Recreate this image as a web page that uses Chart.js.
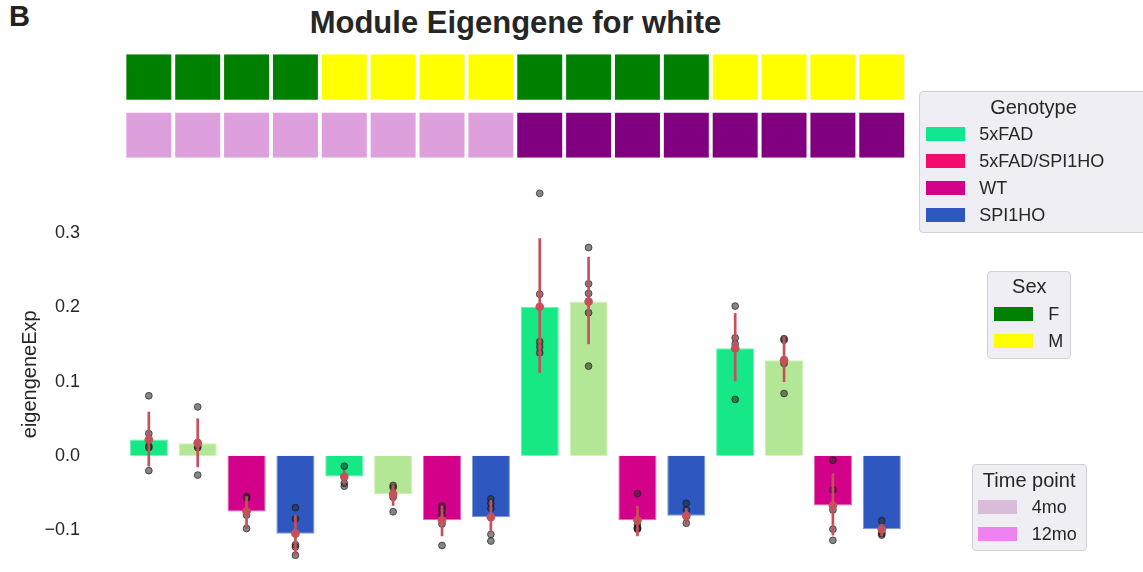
<!DOCTYPE html>
<html>
<head>
<meta charset="utf-8">
<script src="https://cdn.jsdelivr.net/npm/chart.js@4.4.0/dist/chart.umd.min.js"></script>
<style>
html,body{margin:0;padding:0;background:#fff;overflow:hidden;width:1143px;height:572px;
  font-family:"Liberation Sans",Arial,Helvetica,sans-serif;color:#262626}
canvas{position:absolute;left:0;top:0}
.abs{position:absolute;white-space:nowrap}
.lg{position:absolute;background:#EEEEF4;border:1px solid #D2D2D6;border-radius:4px;box-sizing:border-box}
.lgt{position:absolute;left:0;right:0;text-align:center;font-size:20px;line-height:24px}
.sw{position:absolute;width:39px;height:14px}
.lt{position:absolute;font-size:18px;line-height:20px}
</style>
</head>
<body>
<div class="abs" style="left:9px;top:2px;font-size:29px;line-height:29px;font-weight:bold;color:#222">B</div>
<div class="abs" style="left:0;width:1031px;top:7px;text-align:center;font-size:31px;line-height:31px;font-weight:bold;color:#262626">Module Eigengene for white</div>
<canvas id="strip" width="1143" height="572"></canvas>
<canvas id="main" width="1143" height="572"></canvas>
<div id="legends"></div>
<script>
// ---------- data ----------
const categories = ["5xFAD F 4mo","5xFAD/SPI1HO F 4mo","WT F 4mo","SPI1HO F 4mo",
                    "5xFAD M 4mo","5xFAD/SPI1HO M 4mo","WT M 4mo","SPI1HO M 4mo",
                    "5xFAD F 12mo","5xFAD/SPI1HO F 12mo","WT F 12mo","SPI1HO F 12mo",
                    "5xFAD M 12mo","5xFAD/SPI1HO M 12mo","WT M 12mo","SPI1HO M 12mo"];
const genotype = ["5xFAD","5xFAD/SPI1HO","WT","SPI1HO","5xFAD","5xFAD/SPI1HO","WT","SPI1HO",
                  "5xFAD","5xFAD/SPI1HO","WT","SPI1HO","5xFAD","5xFAD/SPI1HO","WT","SPI1HO"];
const sex = ["F","F","F","F","M","M","M","M","F","F","F","F","M","M","M","M"];
const timepoint = ["4mo","4mo","4mo","4mo","4mo","4mo","4mo","4mo",
                   "12mo","12mo","12mo","12mo","12mo","12mo","12mo","12mo"];
const barValues = [0.022, 0.017, -0.075, -0.105, -0.028, -0.052, -0.087, -0.083,
                   0.201, 0.208, -0.087, -0.081, 0.145, 0.129, -0.067, -0.099];
const errLow  = [-0.014, -0.015, -0.098, -0.134, -0.038, -0.067, -0.108, -0.102,
                  0.112, 0.151, -0.108, -0.093, 0.101, 0.100, -0.107, -0.108];
const errHigh = [0.059, 0.050, -0.055, -0.080, -0.020, -0.039, -0.068, -0.060,
                 0.293, 0.268, -0.068, -0.071, 0.192, 0.160, -0.024, -0.092];
const samples = [
  [0.081, 0.030, 0.013, 0.011, -0.020],
  [0.066, 0.018, 0.013, 0.011, -0.026],
  [-0.055, -0.057, -0.075, -0.080, -0.098],
  [-0.070, -0.085, -0.120, -0.123, -0.134],
  [-0.014, -0.029, -0.037, -0.041],
  [-0.040, -0.043, -0.052, -0.056, -0.0755],
  [-0.068, -0.073, -0.080, -0.092, -0.121],
  [-0.058, -0.064, -0.071, -0.106, -0.115],
  [0.354, 0.218, 0.154, 0.147, 0.139],
  [0.281, 0.232, 0.219, 0.193, 0.121],
  [-0.051, -0.093, -0.097, -0.098, -0.099],
  [-0.064, -0.073, -0.082, -0.091],
  [0.202, 0.159, 0.151, 0.1445, 0.076],
  [0.158, 0.156, 0.1245, 0.084],
  [-0.006, -0.046, -0.073, -0.099, -0.114],
  [-0.0875, -0.103, -0.105, -0.107]
];
const yTicks = [-0.1, 0.0, 0.1, 0.2, 0.3];
const yTickLabels = ["\u22120.1", "0.0", "0.1", "0.2", "0.3"];
const genotypeLegend = ["5xFAD", "5xFAD/SPI1HO", "WT", "SPI1HO"];
const sexLegend = ["F", "M"];
const timeLegend = ["4mo", "12mo"];

// ---------- styles ----------
const FONT = '"Liberation Sans", Arial, Helvetica, sans-serif';
const TEXT = '#262626';
const barColors = {"5xFAD":"#15E885","5xFAD/SPI1HO":"#B4E795","WT":"#D3008A","SPI1HO":"#2E58C0"};
const barEdge = {"5xFAD":"#6CEFB0","5xFAD/SPI1HO":"#CDEFB8","WT":"#E468B4","SPI1HO":"#7D96D8"};
const genotypeLegendColors = {"5xFAD":"#12E691","5xFAD/SPI1HO":"#F50A6E","WT":"#D3008A","SPI1HO":"#2E58C0"};
const sexColors = {"F":"#008000","M":"#FFFF00"};
const timeColors = {"4mo":"#DDA0DD","12mo":"#800080"};
const timeLegendColors = {"4mo":"#D8BCD8","12mo":"#EE82EE"};
const RED = '#C6505A';

// layout constants (pixels)
const PLOT_LEFT = 124.4, PLOT_RIGHT_PAD = 1143 - 906.2;
const ZERO_Y = 459, PX_PER_UNIT = 750;
const Y_MIN = -0.15, Y_MAX = 0.37;

// ---------- strip annotation chart ----------
const sexRowSpan = [0.561, 1];
const timeRowSpan = [0, 0.435];
new Chart(document.getElementById('strip'), {
  type: 'bar',
  data: {
    labels: categories,
    datasets: [
      {data: categories.map(() => sexRowSpan), backgroundColor: sex.map(s => sexColors[s]),
       barPercentage: 0.92, categoryPercentage: 1, grouped: false},
      {data: categories.map(() => timeRowSpan), backgroundColor: timepoint.map(t => timeColors[t]),
       barPercentage: 0.92, categoryPercentage: 1, grouped: false}
    ]
  },
  options: {
    responsive: false, animation: false,
    layout: {padding: {left: PLOT_LEFT, right: PLOT_RIGHT_PAD, top: 54.3, bottom: 572 - 157.7}},
    scales: {x: {display: false}, y: {display: false, min: 0, max: 1}},
    plugins: {legend: {display: false}, tooltip: {enabled: false}}
  }
});

// ---------- main chart ----------
new Chart(document.getElementById('main'), {
  type: 'bar',
  data: {
    labels: categories,
    datasets: [
      {type: 'scatter', label: 'mean', data: barValues.map((v, i) => ({x: categories[i], y: v})),
       pointRadius: 4.3, pointBackgroundColor: RED, pointBorderColor: RED, pointBorderWidth: 0,
       clip: false, order: 1},
      {type: 'bar', label: 'ci', data: errLow.map((lo, i) => [lo, errHigh[i]]),
       backgroundColor: RED, barThickness: 2, grouped: false, clip: false, order: 2},
      {type: 'scatter', label: 'samples',
       data: samples.flatMap((arr, i) => arr.map(v => ({x: categories[i], y: v}))),
       pointRadius: 3.4, pointBackgroundColor: 'rgba(40,40,40,0.56)',
       pointBorderColor: 'rgba(25,25,25,0.65)', pointBorderWidth: 1, clip: false, order: 3},
      {type: 'bar', label: 'eigengeneExp', data: barValues,
       backgroundColor: genotype.map(g => barColors[g]), borderColor: genotype.map(g => barEdge[g]),
       borderWidth: 1, barPercentage: 0.78, categoryPercentage: 1, grouped: false, clip: false, order: 4}
    ]
  },
  options: {
    responsive: false, animation: false,
    layout: {padding: {left: 0, right: PLOT_RIGHT_PAD,
                       top: ZERO_Y - Y_MAX * PX_PER_UNIT,
                       bottom: 572 - (ZERO_Y - Y_MIN * PX_PER_UNIT)}},
    scales: {
      x: {display: false},
      y: {
        min: Y_MIN, max: Y_MAX,
        afterBuildTicks: s => { s.ticks = yTicks.map(v => ({value: v})); },
        afterFit: s => { s.width = PLOT_LEFT; s.paddingTop = 0; s.paddingBottom = 0; },
        ticks: {padding: 0, color: TEXT, font: {size: 18, family: FONT},
                callback: (v, i) => yTickLabels[i]},
        grid: {display: false, drawTicks: true, tickLength: 44.4},
        border: {display: false},
        title: {display: true, text: 'eigengeneExp', color: TEXT,
                font: {size: 20, family: FONT}, padding: {top: 18, bottom: 0}}
      }
    },
    plugins: {legend: {display: false}, tooltip: {enabled: false}}
  }
});

// ---------- legends (HTML text) ----------
function makeLegend(box, title, labels, colors, rowYs, swLeft, txtLeft, titleY) {
  const d = document.createElement('div');
  d.className = 'lg';
  Object.assign(d.style, {left: box[0] + 'px', top: box[1] + 'px', width: box[2] + 'px', height: box[3] + 'px'});
  const t = document.createElement('div');
  t.className = 'lgt'; t.textContent = title; t.style.top = (titleY - 12) + 'px';
  d.appendChild(t);
  labels.forEach((lab, i) => {
    const s = document.createElement('div');
    s.className = 'sw';
    Object.assign(s.style, {left: swLeft + 'px', top: (rowYs[i] - 7) + 'px', background: colors[lab]});
    d.appendChild(s);
    const tx = document.createElement('div');
    tx.className = 'lt'; tx.textContent = lab;
    Object.assign(tx.style, {left: txtLeft + 'px', top: (rowYs[i] - 10) + 'px'});
    d.appendChild(tx);
  });
  document.getElementById('legends').appendChild(d);
}
makeLegend([919, 91, 229, 142], 'Genotype', genotypeLegend, genotypeLegendColors,
           [42.3, 69, 95.7, 123], 6, 59.3, 14.7);
makeLegend([987.3, 270.7, 84, 88.3], 'Sex', sexLegend, sexColors,
           [42.3, 69.6], 5.7, 60, 14.3);
makeLegend([971.7, 464, 115, 87], 'Time point', timeLegend, timeLegendColors,
           [42.3, 69.3], 5.6, 59, 15);
</script>
</body>
</html>
